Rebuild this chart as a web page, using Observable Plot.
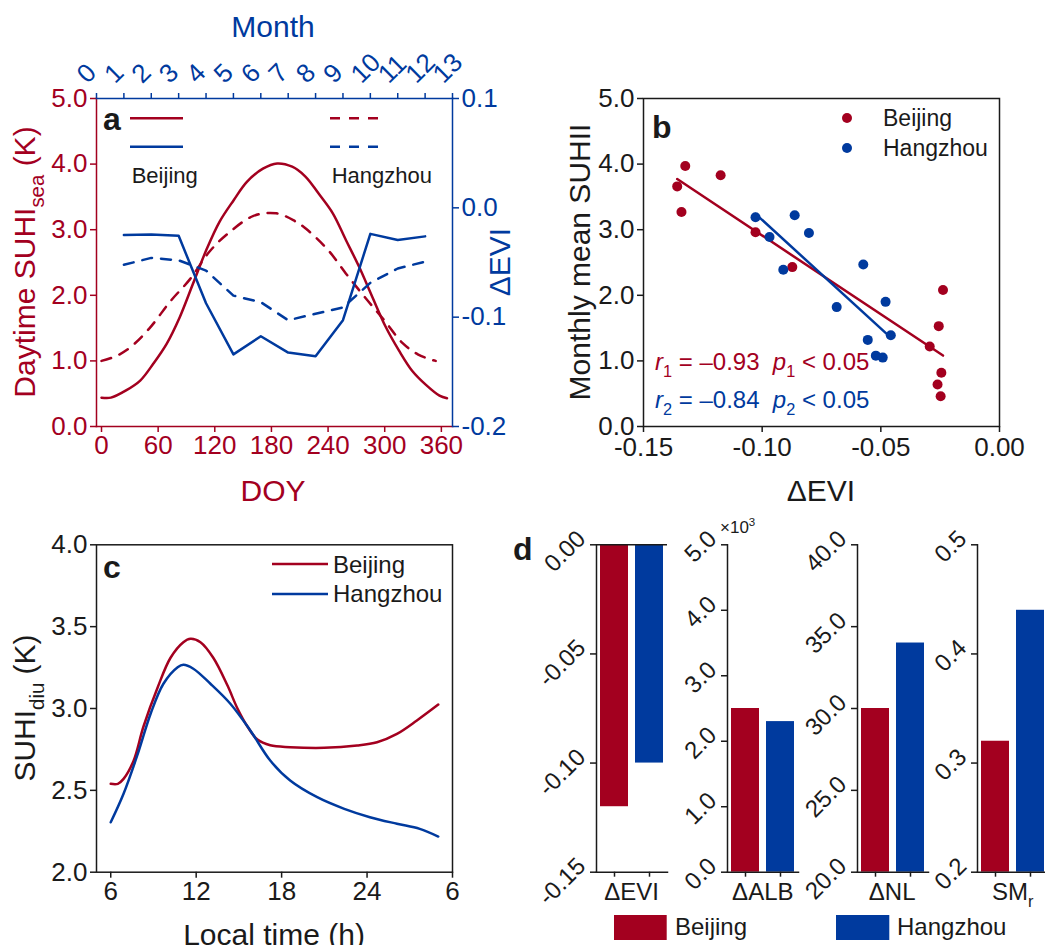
<!DOCTYPE html>
<html><head><meta charset="utf-8">
<script src="https://cdn.jsdelivr.net/npm/d3@7"></script>
<script src="https://cdn.jsdelivr.net/npm/@observablehq/plot@0.6"></script>
<style>
html,body{margin:0;padding:0;background:#fff;}
#root{position:relative;width:1045px;height:945px;overflow:hidden;font-family:'Liberation Sans',Arial,sans-serif;}
</style></head><body><div id="root"></div>
<script>
const RED = "#a3001f", BLUE = "#003a9e", INK = "#1a1a1a";

// ---------- data: panel a ----------
const doyTicks = [0, 60, 120, 180, 240, 300, 360];
const monthTicks = [0,1,2,3,4,5,6,7,8,9,10,11,12,13];
const suhiTicksA = [0, 1, 2, 3, 4, 5];
const eviAxisTicks = [0.1, 0.0, -0.1, -0.2];
const bjDoy = [0,10,26,41,55,69,83,97,111,125,140,154,171,186,202,216,230,245,259,273,287,301,315,329,344,358,366];
const bjSuhiSea = [0.44,0.44,0.55,0.70,0.96,1.26,1.67,2.18,2.69,3.12,3.45,3.73,3.93,4.01,3.96,3.81,3.55,3.25,2.84,2.43,1.97,1.52,1.16,0.85,0.63,0.47,0.43];
const hzDoy = [0,15,30,51,73,94,114,133,161,185,205,217,240,259,279,300,319,335,349,354];
const hzSuhiSea = [1.00,1.07,1.20,1.50,1.91,2.25,2.66,2.93,3.21,3.25,3.13,3.01,2.69,2.33,1.97,1.61,1.27,1.10,1.02,1.00];
const months = [1,2,3,4,5,6,7,8,9,10,11,12];
const bjEviMonthly = [-0.0248,-0.0245,-0.0256,-0.0873,-0.1340,-0.1175,-0.1324,-0.1358,-0.1028,-0.0238,-0.0294,-0.0261];
const hzEviMonthly = [-0.0521,-0.0458,-0.0480,-0.0574,-0.0803,-0.0863,-0.1028,-0.0969,-0.0911,-0.0686,-0.0555,-0.0492];

// ---------- data: panel b ----------
const bjSuhiMonthly = [0.46,0.82,1.53,2.43,3.27,3.83,3.97,3.66,2.96,2.08,1.22,0.64];
const hzSuhiMonthly = [1.08,1.39,1.90,2.47,2.95,3.22,3.19,2.89,2.39,1.82,1.32,1.05];
const eviTicksB = [-0.15, -0.10, -0.05, 0.00];
const suhiTicksB = [0, 1, 2, 3, 4, 5];

// ---------- data: panel c ----------
const bjHour = [6,6.5,6.9,7.6,8.3,9.3,10.2,11.1,11.6,12.3,13.2,14.2,14.9,15.6,16.3,17.2,18.6,21,23.3,24.7,26.1,27.5,29];
const bjSuhiDiu = [2.54,2.54,2.57,2.68,2.89,3.13,3.31,3.405,3.426,3.405,3.31,3.14,3.0,2.89,2.81,2.775,2.764,2.76,2.774,2.794,2.845,2.927,3.024];
const hzHour = [6,6.9,7.9,8.8,9.7,10.7,11.1,11.8,13,14.4,15.8,17.2,18.6,20.5,22.4,24.2,26.1,27.7,29];
const hzSuhiDiu = [2.305,2.479,2.723,2.968,3.151,3.252,3.267,3.243,3.151,3.029,2.866,2.682,2.56,2.458,2.387,2.336,2.296,2.265,2.218];
const hourTicks = [6, 12, 18, 24, 30];
const diuTicks = [2.0, 2.5, 3.0, 3.5, 4.0];

// ---------- data: panel d ----------
const cities = ["Beijing", "Hangzhou"];
const dVars = ["ΔEVI", "ΔALB", "ΔNL", "SMr"];
const dBeijing = [-0.12, 2.5, 30.0, 0.32];
const dHangzhou = [-0.10, 2.3, 34.0, 0.44];
const dDomains = [[-0.15, 0], [0, 5], [20, 40], [0.2, 0.5]];
const dBaselines = [0, 0, 20, 0.2];
const dTicks = [[0, -0.05, -0.10, -0.15], [0, 1, 2, 3, 4, 5], [20, 25, 30, 35, 40], [0.2, 0.3, 0.4, 0.5]];
const dDecimals = [2, 1, 1, 1];

// ---------- helpers ----------
const root = document.getElementById("root");
const FONT = "'Liberation Sans', Arial, sans-serif";
const baseStyle = {fontFamily: FONT, fontSize: "26px", color: INK, background: "transparent", overflow: "visible"};
function place(el, left, top) {
  el.style.position = "absolute"; el.style.left = left + "px"; el.style.top = top + "px";
  root.appendChild(el); return el;
}

// ---------- panel a ----------
const xDomA = [-5.3, 371.8];
const monthToDoy = d3.scaleLinear([0, 13], xDomA);
const evi2y = d3.scaleLinear([-0.2, 0.1], [0, 5]);
const fmtEvi = d => { const v = +evi2y.invert(d).toFixed(1); return (v === 0 ? 0 : v).toFixed(1); };
const bjSea = bjDoy.map((d, i) => ({doy: d, v: bjSuhiSea[i]}));
const hzSea = hzDoy.map((d, i) => ({doy: d, v: hzSuhiSea[i]}));
const bjEviA = months.map((m, i) => ({m, e: bjEviMonthly[i]}));
const hzEviA = months.map((m, i) => ({m, e: hzEviMonthly[i]}));

const plotA = Plot.plot({
  width: 540, height: 520, marginLeft: 96, marginRight: 88, marginTop: 98, marginBottom: 94,
  style: baseStyle,
  x: {domain: xDomA}, y: {domain: [0, 5]},
  marks: [
    Plot.axisY(suhiTicksA, {anchor: "left", tickSize: 6, tickFormat: d => d.toFixed(1), stroke: RED, fill: RED, strokeWidth: 1.5, label: null}),
    Plot.axisY(eviAxisTicks.map(evi2y), {anchor: "right", tickSize: 6, tickFormat: fmtEvi, stroke: BLUE, fill: BLUE, strokeWidth: 1.5, label: null}),
    Plot.axisX(doyTicks, {anchor: "bottom", tickSize: 6, tickFormat: d => String(d), stroke: RED, fill: RED, strokeWidth: 1.5, label: null}),
    Plot.axisX(monthTicks.map(monthToDoy), {anchor: "top", tickSize: 6, stroke: BLUE, fill: "none", strokeWidth: 1.5, label: null}),
    Plot.text(monthTicks, {x: d => monthToDoy(d), frameAnchor: "top", text: d => String(d), rotate: -45, textAnchor: "start", dx: -22, dy: -27, fill: BLUE, fontSize: 26}),
    Plot.frame({anchor: "left", stroke: RED, strokeWidth: 1.5}),
    Plot.frame({anchor: "bottom", stroke: RED, strokeWidth: 1.5}),
    Plot.frame({anchor: "right", stroke: BLUE, strokeWidth: 1.5}),
    Plot.frame({anchor: "top", stroke: BLUE, strokeWidth: 1.5}),
    Plot.line(bjSea, {x: "doy", y: "v", stroke: RED, strokeWidth: 2.5, curve: "catmull-rom"}),
    Plot.line(hzSea, {x: "doy", y: "v", stroke: RED, strokeWidth: 2.5, curve: "catmull-rom", strokeDasharray: "10,9"}),
    Plot.line(bjEviA, {x: d => monthToDoy(d.m), y: d => evi2y(d.e), stroke: BLUE, strokeWidth: 2.5}),
    Plot.line(hzEviA, {x: d => monthToDoy(d.m), y: d => evi2y(d.e), stroke: BLUE, strokeWidth: 2.5, strokeDasharray: "10,9"})
  ]
});
place(plotA, 0, 0);

// ---------- panel b ----------
const bjB = months.map((m, i) => ({x: bjEviMonthly[i], y: bjSuhiMonthly[i]}));
const hzB = months.map((m, i) => ({x: hzEviMonthly[i], y: hzSuhiMonthly[i]}));
const plotB = Plot.plot({
  width: 505, height: 520, marginLeft: 103, marginRight: 46, marginTop: 98, marginBottom: 94,
  style: baseStyle,
  x: {domain: [-0.15, 0]}, y: {domain: [0, 5]},
  marks: [
    Plot.frame({stroke: INK, strokeWidth: 1.5}),
    Plot.axisX(eviTicksB, {anchor: "bottom", tickSize: 6, tickPadding: 5, tickFormat: d => d.toFixed(2), strokeWidth: 1.5, label: null}),
    Plot.axisY(suhiTicksB, {anchor: "left", tickSize: 6, tickFormat: d => d.toFixed(1), strokeWidth: 1.5, label: null}),
    Plot.linearRegressionY(bjB, {x: "x", y: "y", stroke: RED, strokeWidth: 2.5, ci: 0}),
    Plot.linearRegressionY(hzB, {x: "x", y: "y", stroke: BLUE, strokeWidth: 2.5, ci: 0}),
    Plot.dot(bjB, {x: "x", y: "y", fill: RED, r: 5}),
    Plot.dot(hzB, {x: "x", y: "y", fill: BLUE, r: 5})
  ]
});
place(plotB, 540, 0);

// ---------- panel c ----------
const bjC = bjHour.map((h, i) => ({h, v: bjSuhiDiu[i]}));
const hzC = hzHour.map((h, i) => ({h, v: hzSuhiDiu[i]}));
const plotC = Plot.plot({
  width: 540, height: 425, marginLeft: 96, marginRight: 88, marginTop: 24.3, marginBottom: 73.3,
  style: baseStyle,
  x: {domain: [5, 30]}, y: {domain: [2, 4]},
  marks: [
    Plot.frame({stroke: INK, strokeWidth: 1.5}),
    Plot.axisX(hourTicks, {anchor: "bottom", tickSize: 6, tickFormat: d => String(d > 24 ? d - 24 : d), strokeWidth: 1.5, label: null}),
    Plot.axisY(diuTicks, {anchor: "left", tickSize: 6, tickFormat: d => d.toFixed(1), strokeWidth: 1.5, label: null}),
    Plot.line(bjC, {x: "h", y: "v", stroke: RED, strokeWidth: 2.5, curve: "catmull-rom"}),
    Plot.line(hzC, {x: "h", y: "v", stroke: BLUE, strokeWidth: 2.5, curve: "catmull-rom"})
  ]
});
place(plotC, 0, 520);

// ---------- panel d ----------
const dAxisX = [596, 727.3, 856.7, 977.3];
dVars.forEach((name, k) => {
  const data = cities.map((c, i) => ({city: c, v: i === 0 ? dBeijing[k] : dHangzhou[k]}));
  const base = dBaselines[k];
  const marks = [
    Plot.barY(data, {x: "city", y1: () => base, y2: "v", fill: "city"}),
    Plot.axisY(dTicks[k], {anchor: "left", tickSize: 6, fill: "none", strokeWidth: 1.5, label: null}),
    Plot.text(dTicks[k], {y: d => d, frameAnchor: "left", text: d => d.toFixed(dDecimals[k]), rotate: -45, textAnchor: "end", dx: -15, dy: -10, fontSize: 24, fill: INK}),
    Plot.axisX({anchor: "bottom", tickSize: 5, fill: "none", strokeWidth: 1.5, label: null}),
    Plot.frame({anchor: "left", stroke: INK, strokeWidth: 1.5}),
    Plot.frame({anchor: "bottom", stroke: INK, strokeWidth: 1.5})
  ];
  if (k === 0) marks.push(Plot.ruleY([0], {stroke: INK, strokeWidth: 1.5}));
  const p = Plot.plot({
    width: 141, height: 375, marginLeft: 60, marginRight: 10, marginTop: 24.3, marginBottom: 23.3,
    style: {...baseStyle, fontSize: "24px"},
    x: {domain: cities, paddingInner: 0.19, paddingOuter: 0.09},
    y: {domain: dDomains[k]},
    color: {domain: cities, range: [RED, BLUE]},
    marks
  });
  place(p, dAxisX[k] - 60, 520);
});

// ---------- overlay: titles, legends, annotations ----------
const ov = d3.select(root).append("svg")
  .attr("width", 1045).attr("height", 945)
  .style("position", "absolute").style("left", "0px").style("top", "0px")
  .style("pointer-events", "none").attr("font-family", FONT);

function rich(x, y, parts, {size = 30, fill = INK, anchor = "start", rotate = 0, weight = "normal"} = {}) {
  const t = ov.append("text")
    .attr("transform", `translate(${x},${y}) rotate(${rotate})`)
    .attr("text-anchor", anchor).attr("font-size", size).attr("fill", fill).attr("font-weight", weight)
    .style("white-space", "pre");
  let shift = 0;
  parts.forEach(p => {
    if (typeof p === "string") p = {t: p};
    const s = t.append("tspan").text(p.t);
    let target = 0;
    if (p.sub) { target = 0.3 * size; s.attr("font-size", size * 0.68); }
    if (p.sup) { target = -0.4 * size; s.attr("font-size", size * 0.68); }
    if (target !== shift) { s.attr("dy", target - shift); shift = target; }
    if (p.italic) s.attr("font-style", "italic");
  });
  return t;
}
function hline(x1, x2, y, color, dash) {
  const l = ov.append("line").attr("x1", x1).attr("x2", x2).attr("y1", y).attr("y2", y)
    .attr("stroke", color).attr("stroke-width", 2.5);
  if (dash) l.attr("stroke-dasharray", dash);
}
const SP = "\u00a0";

// panel a
rich(103, 130, ["a"], {size: 32, weight: "bold"});
hline(130, 183, 118.3, RED); hline(130, 183, 146.7, BLUE);
hline(330, 380, 118.3, RED, "10,9"); hline(330, 380, 146.7, BLUE, "10,9");
rich(131.7, 183.3, ["Beijing"], {size: 22});
rich(331.7, 183.3, ["Hangzhou"], {size: 22});
rich(273, 37, ["Month"], {fill: BLUE, anchor: "middle"});
rich(273, 501, ["DOY"], {fill: RED, anchor: "middle"});
rich(35, 262, ["Daytime SUHI", {t: "sea", sub: true}, {t: " (K)"}], {fill: RED, anchor: "middle", rotate: -90});
rich(510, 262, ["ΔEVI"], {fill: BLUE, anchor: "middle", rotate: -90});

// panel b
rich(652, 138, ["b"], {size: 32, weight: "bold"});
ov.append("circle").attr("cx", 847).attr("cy", 118).attr("r", 5).attr("fill", RED);
ov.append("circle").attr("cx", 847).attr("cy", 148).attr("r", 5).attr("fill", BLUE);
rich(883, 126, ["Beijing"], {size: 23});
rich(883, 156, ["Hangzhou"], {size: 23});
rich(655, 370, [{t: "r", italic: true}, {t: "1", sub: true}, {t: " = –0.93" + SP + SP}, {t: "p", italic: true}, {t: "1", sub: true}, {t: " < 0.05"}], {size: 24, fill: RED});
rich(655, 408, [{t: "r", italic: true}, {t: "2", sub: true}, {t: " = –0.84" + SP + SP}, {t: "p", italic: true}, {t: "2", sub: true}, {t: " < 0.05"}], {size: 24, fill: BLUE});
rich(590, 262, ["Monthly mean SUHII"], {anchor: "middle", rotate: -90});
rich(821, 501, ["ΔEVI"], {anchor: "middle"});

// panel c
rich(103, 578, ["c"], {size: 32, weight: "bold"});
hline(272, 328, 564, RED); hline(272, 328, 594, BLUE);
rich(333, 573, ["Beijing"], {size: 24});
rich(333, 602, ["Hangzhou"], {size: 24});
rich(35, 708, ["SUHI", {t: "diu", sub: true}, {t: " (K)"}], {anchor: "middle", rotate: -90});
rich(274, 945, ["Local time (h)"], {anchor: "middle"});

// panel d
rich(513, 560, ["d"], {size: 32, weight: "bold"});
rich(720, 533, ["×10", {t: "3", sup: true}], {size: 17});
const dCenters = dAxisX.map(x => x + 35.5);
rich(dCenters[0], 900, ["ΔEVI"], {size: 24, anchor: "middle"});
rich(dCenters[1], 900, ["ΔALB"], {size: 24, anchor: "middle"});
rich(dCenters[2], 900, ["ΔNL"], {size: 24, anchor: "middle"});
rich(dCenters[3], 900, ["SM", {t: "r", sub: true}], {size: 24, anchor: "middle"});
ov.append("rect").attr("x", 614).attr("y", 915).attr("width", 52.7).attr("height", 25).attr("fill", RED);
ov.append("rect").attr("x", 836).attr("y", 915).attr("width", 53.3).attr("height", 25).attr("fill", BLUE);
rich(675, 935, ["Beijing"], {size: 24});
rich(897, 935, ["Hangzhou"], {size: 24});
</script>
</body></html>
